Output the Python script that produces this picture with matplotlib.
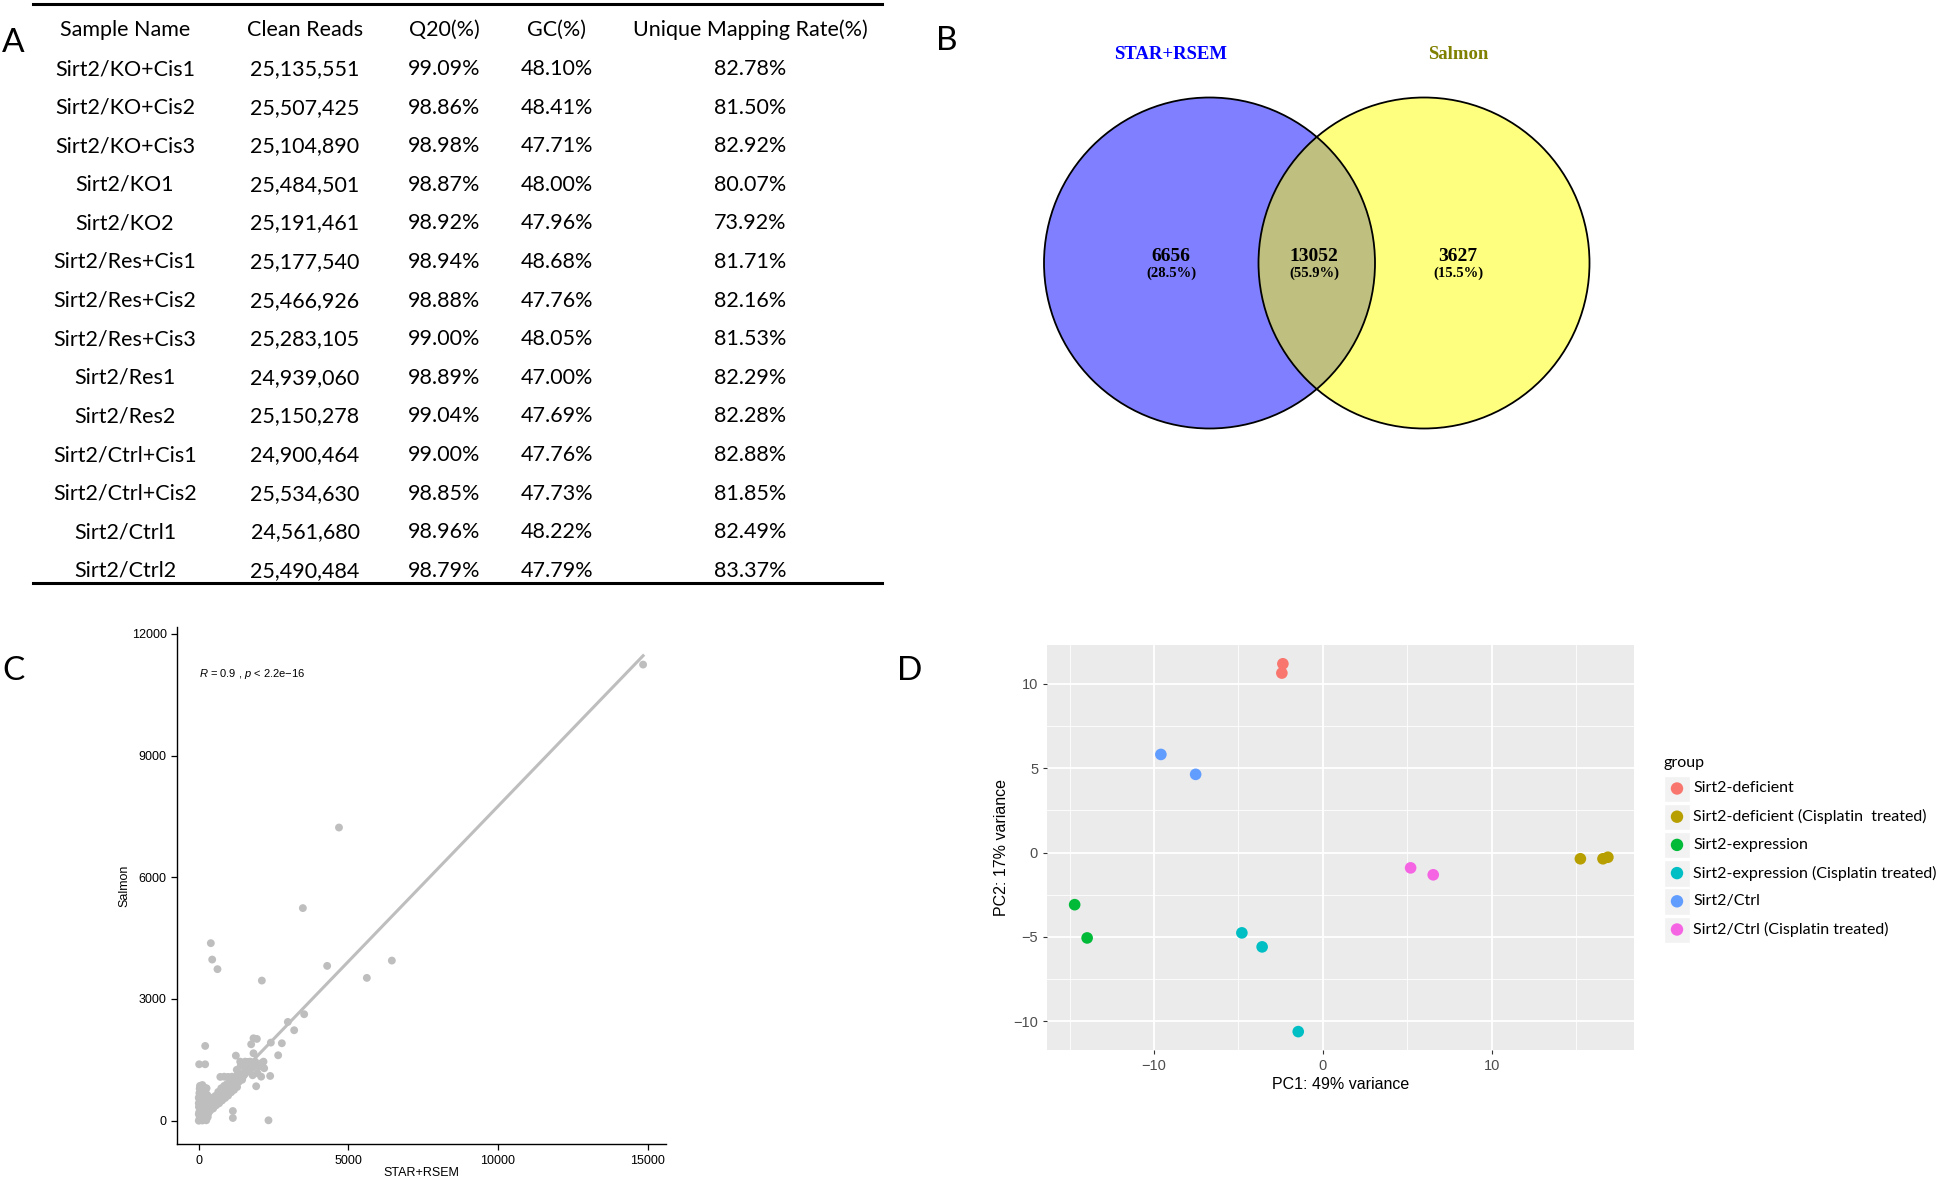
import matplotlib.pyplot as plt
from matplotlib.patches import Circle, Rectangle
import numpy as np

plt.rcParams['font.family'] = ['Lato', 'DejaVu Sans']
plt.rcParams['mathtext.fontset'] = 'custom'
plt.rcParams['mathtext.rm'] = 'Liberation Sans'
plt.rcParams['mathtext.it'] = 'Liberation Sans:italic'

# ---- panel A: sequencing summary ----
headers = ['Sample Name', 'Clean Reads', 'Q20(%)', 'GC(%)', 'Unique Mapping Rate(%)']
sample_names = ['Sirt2/KO+Cis1', 'Sirt2/KO+Cis2', 'Sirt2/KO+Cis3', 'Sirt2/KO1', 'Sirt2/KO2',
                'Sirt2/Res+Cis1', 'Sirt2/Res+Cis2', 'Sirt2/Res+Cis3', 'Sirt2/Res1', 'Sirt2/Res2',
                'Sirt2/Ctrl+Cis1', 'Sirt2/Ctrl+Cis2', 'Sirt2/Ctrl1', 'Sirt2/Ctrl2']
clean_reads = [25135551, 25507425, 25104890, 25484501, 25191461, 25177540, 25466926,
               25283105, 24939060, 25150278, 24900464, 25534630, 24561680, 25490484]
q20 = [99.09, 98.86, 98.98, 98.87, 98.92, 98.94, 98.88, 99.00, 98.89, 99.04, 99.00, 98.85, 98.96, 98.79]
gc = [48.10, 48.41, 47.71, 48.00, 47.96, 48.68, 47.76, 48.05, 47.00, 47.69, 47.76, 47.73, 48.22, 47.79]
unique_map = [82.78, 81.50, 82.92, 80.07, 73.92, 81.71, 82.16, 81.53, 82.29, 82.28, 82.88, 81.85, 82.49, 83.37]

# ---- panel B: venn ----
venn_sets = ['STAR+RSEM', 'Salmon']
venn_counts = [6656, 13052, 3627]  # STAR only, both, Salmon only

# ---- panel C: STAR+RSEM vs Salmon ----
star_rsem = [0, 30, 60, 15, 80, 5, 50, 100, 20, 140, 60, 150, 30, 200, 250, 280, 200, 150, 250, 100,
             180, 300, 320, 350, 250, 120, 70, 0, 0, 0, 210, 260, 40, 110, 190,
             380, 480, 580, 680, 780, 880, 980, 1080, 1180, 1280,
             350, 400, 450, 500, 550, 600, 650, 700, 750, 800, 850, 900, 950, 1000, 1050, 1100, 1150,
             1200, 1250, 1300, 1350, 1400, 1450, 1500, 1550, 1600, 1650, 1700, 1750, 1800,
             450, 550, 650, 750, 850, 950, 1050, 1150, 1250, 1350,
             720, 850, 980, 1110, 1240, 1380, 1270, 1330,
             40, 90, 130, 170, 220, 270, 320, 360, 400, 420, 470, 520, 540, 590, 620, 660, 700, 730,
             770, 820, 880, 930, 980, 1020, 1070, 1120, 1180, 1230, 1290, 1340, 60, 110, 170, 90,
             230, 300, 20, 120, 260, 330,
             1300, 1400, 1500, 1550, 1650, 1700, 1800, 1850, 1950, 2000, 2100, 2163, 1885, 1718, 1551,
             1384, 2186, 2386, 1918, 2085, 1962, 1139, 1139, 2330,
             3479, 403, 448, 625, 2108, 4291, 6453, 5617, 3522, 2977, 3188, 214, 2776, 2409, 2653,
             1829, 1941, 1751, 1829, 1239, 13, 213, 4686, 14850]
salmon = [0, 60, 130, 210, 270, 340, 410, 460, 530, 570, 640, 720, 790, 810, 660, 500, 360, 230, 160, 30,
          50, 90, 270, 390, 10, 5, 710, 570, 430, 160, 580, 800, 860, 330, 120,
          250, 300, 380, 430, 500, 560, 620, 700, 760, 830,
          300, 400, 360, 470, 410, 520, 460, 560, 510, 620, 590, 700, 660, 780, 730, 850, 810,
          900, 880, 960, 1010, 1060, 1010, 1110, 1160, 1210, 1260, 1300, 1350, 1310,
          560, 610, 710, 800, 860, 910, 960, 1010, 1060, 1160,
          1080, 1085, 1080, 1085, 1080, 1086, 1254, 1170,
          100, 180, 90, 300, 250, 380, 180, 450, 320, 500, 420, 380, 520, 460, 580, 520, 480, 620,
          560, 680, 640, 760, 700, 860, 800, 920, 860, 980, 1040, 960, 480, 600, 650, 760,
          450, 620, 680, 880, 570, 500,
          1120, 1350, 1400, 1300, 1450, 1220, 1120, 1400, 1380, 1330, 1420, 1456, 1456, 1456, 1456,
          1456, 1293, 1103, 849, 1086, 1170, 239, 67, 10,
          5240, 4376, 3972, 3735, 3454, 3816, 3947, 3520, 2625, 2435, 2230, 1843, 1909, 1925, 1613,
          2032, 2016, 1884, 1662, 1604, 1391, 1391, 7226, 11242]
fit_intercept = 100
fit_slope = 0.765
r_value = 0.9

# ---- panel D: PCA ----
groups = ['Sirt2-deficient', 'Sirt2-deficient (Cisplatin  treated)', 'Sirt2-expression',
          'Sirt2-expression (Cisplatin treated)', 'Sirt2/Ctrl', 'Sirt2/Ctrl (Cisplatin treated)']
group_colors = ['#F8766D', '#B79F00', '#00BA38', '#00BFC4', '#619CFF', '#F564E3']
pc1 = [-2.37, -2.43, 15.26, 16.6, 16.89, -14.71, -13.97, -4.8, -3.6, -1.46, -9.6, -7.54, 5.2, 6.54]
pc2 = [11.18, 10.63, -0.37, -0.37, -0.28, -3.09, -5.06, -4.76, -5.59, -10.61, 5.81, 4.63, -0.91, -1.32]
pc_group = [0, 0, 1, 1, 1, 2, 2, 3, 3, 3, 4, 4, 5, 5]

fig = plt.figure(figsize=(19.46, 11.8), dpi=100)

# background axes in pixel units for the table, venn, legend and panel letters
ax0 = fig.add_axes([0, 0, 1, 1])
ax0.set_xlim(0, 1946)
ax0.set_ylim(1180, 0)
ax0.axis('off')

for lab, (lx, ly) in zip('ABCD', [(13, 43), (947, 41), (13, 671), (910, 671)]):
    ax0.text(lx, ly, lab, fontsize=24, ha='center', va='center')

# table
col_x = [125, 305, 444, 557, 750]
ax0.plot([33, 882], [4, 4], color='black', lw=2.2)
ax0.plot([33, 882], [583, 583], color='black', lw=2.2)
for cx, h in zip(col_x, headers):
    ax0.text(cx, 29.5, h, fontsize=15.5, ha='center', va='center')
for i in range(len(sample_names)):
    y = 69 + 38.6 * i
    vals = [sample_names[i], f'{clean_reads[i]:,}', f'{q20[i]:.2f}%', f'{gc[i]:.2f}%', f'{unique_map[i]:.2f}%']
    for cx, v in zip(col_x, vals):
        ax0.text(cx, y, v, fontsize=15.5, ha='center', va='center')

# venn
total = sum(venn_counts)
cy, r = 263, 165.5
left_c, right_c = 1209.5, 1424
ax0.add_patch(Circle((left_c, cy), r, fc='blue', alpha=0.5, ec='none'))
ax0.add_patch(Circle((right_c, cy), r, fc='yellow', alpha=0.5, ec='none'))
for c in (left_c, right_c):
    ax0.add_patch(Circle((c, cy), r, fill=False, ec='black', lw=1.3))
serif = ['Liberation Serif', 'DejaVu Serif']
ax0.text(1171, 54.5, venn_sets[0], color='#0000FF', fontsize=13.5, fontweight='bold',
         family=serif, ha='center', va='center')
ax0.text(1458, 54.5, venn_sets[1], color='#808000', fontsize=13.5, fontweight='bold',
         family=serif, ha='center', va='center')
for tx, n in zip([1171, 1314, 1458], venn_counts):
    ax0.text(tx, 256.5, f'{n}', fontsize=14, fontweight='bold', family=serif, ha='center', va='center')
    ax0.text(tx, 273, f'({n / total * 100:.1f}%)', fontsize=10.5, fontweight='bold', family=serif,
             ha='center', va='center')

# ---- panel C ----
sans = ['Liberation Sans', 'DejaVu Sans']
axC = fig.add_axes([0.0910, 0.0303, 0.2510, 0.4384])
axC.scatter(star_rsem, salmon, s=32, c='#BEBEBE', edgecolors='none', zorder=2)
xs = np.array([min(star_rsem), max(star_rsem)])
axC.plot(xs, fit_intercept + fit_slope * xs, color='#BEBEBE', lw=2.2, zorder=3)
axC.set_xlim(-725, 15600)
axC.set_ylim(-580, 12170)
axC.set_xticks([0, 5000, 10000, 15000])
axC.set_yticks([0, 3000, 6000, 9000, 12000])
for s in ['top', 'right']:
    axC.spines[s].set_visible(False)
for s in ['left', 'bottom']:
    axC.spines[s].set_linewidth(1.0)
axC.tick_params(direction='out', length=4, width=0.9, labelsize=9)
for t in axC.get_xticklabels() + axC.get_yticklabels():
    t.set_family(sans)
axC.set_xlabel('STAR+RSEM', fontsize=9, family=sans, labelpad=0)
axC.set_ylabel('Salmon', fontsize=9, family=sans, labelpad=1)
axC.text(0, 11000, f'$R$ = {r_value} , $p$ < 2.2e\u221216', fontsize=8, family=sans,
         ha='left', va='center')

# ---- panel D ----
axD = fig.add_axes([0.5381, 0.1103, 0.3015, 0.3429])
axD.set_facecolor('#EBEBEB')
for s in axD.spines.values():
    s.set_visible(False)
axD.set_xlim(-16.34, 18.43)
axD.set_ylim(-11.69, 12.28)
axD.set_xticks([-10, 0, 10])
axD.set_yticks([-10, -5, 0, 5, 10])
axD.set_xticks([-15, -5, 5, 15], minor=True)
axD.set_yticks([-7.5, -2.5, 2.5, 7.5], minor=True)
axD.grid(which='major', color='white', lw=1.3)
axD.grid(which='minor', color='white', lw=0.6)
axD.set_axisbelow(True)
axD.tick_params(which='major', direction='out', length=3, color='#333333', labelcolor='#4D4D4D', labelsize=10.5)
axD.tick_params(which='minor', length=0)
for t in axD.get_xticklabels() + axD.get_yticklabels():
    t.set_family(sans)
for gi, col in enumerate(group_colors):
    xs_g = [x for x, g in zip(pc1, pc_group) if g == gi]
    ys_g = [y for y, g in zip(pc2, pc_group) if g == gi]
    axD.scatter(xs_g, ys_g, s=70, color=col, edgecolors='none', zorder=3)
axD.set_xlabel('PC1: 49% variance', fontsize=11.5, family=sans, labelpad=3)
axD.set_ylabel('PC2: 17% variance', fontsize=11.5, family=sans, labelpad=3)

# legend for D
ax0.text(1663, 763, 'group', fontsize=11.5, ha='left', va='center')
for i, (g, col) in enumerate(zip(groups, group_colors)):
    ly = 788.5 + 28.2 * i
    ax0.add_patch(Rectangle((1664, ly - 13), 26, 26.5, fc='#F2F2F2', ec='white', lw=1))
    ax0.scatter([1677], [ly], s=80, color=col, edgecolors='none', zorder=3)
    ax0.text(1693, ly, g, fontsize=11.5, ha='left', va='center')

fig.savefig('out.png', dpi=100)
